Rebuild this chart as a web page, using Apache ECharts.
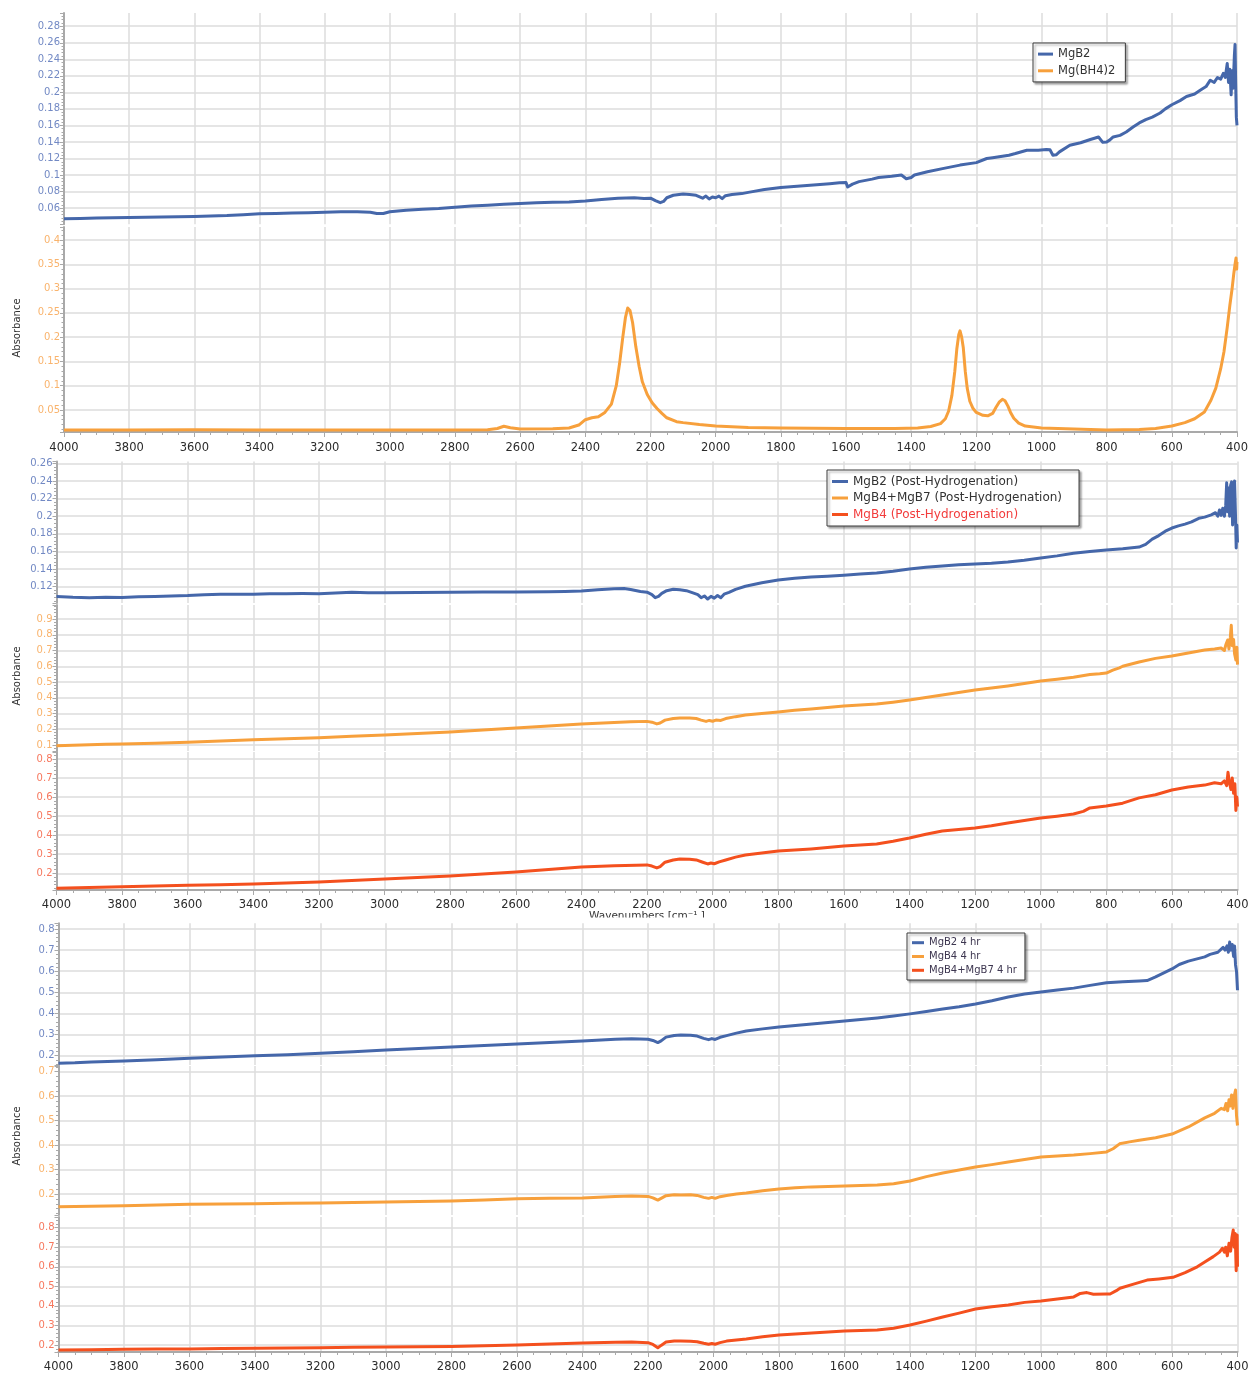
<!DOCTYPE html>
<html>
<head>
<meta charset="utf-8">
<title>FTIR absorbance spectra</title>
<script src="https://cdn.jsdelivr.net/npm/echarts@6/dist/echarts.min.js"></script>
<style>
  html, body { margin: 0; padding: 0; background: #ffffff; }
  #chart { width: 1252px; height: 1373px; }
</style>
</head>
<body>
<div id="chart"></div>
<script>
// Wavenumber axis (cm-1), drawn high -> low
const wavenumberRange = [400, 4000];
const wavenumberStep = 200;

// ---- Panel 1: starting materials ----
const mgb2Raw = [
  [4000,0.047],[3950,0.0475],[3900,0.048],[3850,0.0482],[3800,0.0485],[3750,0.049],[3700,0.0492],[3650,0.0495],
  [3600,0.0498],[3550,0.0505],[3500,0.051],[3450,0.052],[3400,0.053],[3350,0.0535],[3300,0.054],[3250,0.0545],
  [3200,0.055],[3150,0.0555],[3100,0.0555],[3060,0.055],[3040,0.0535],[3020,0.0535],[3000,0.0555],[2950,0.0575],
  [2900,0.0585],[2850,0.0595],[2800,0.061],[2750,0.0625],[2700,0.0635],[2650,0.0645],[2600,0.0655],[2550,0.0665],
  [2500,0.067],[2450,0.0675],[2400,0.0685],[2350,0.0705],[2300,0.072],[2250,0.0725],[2220,0.0715],[2200,0.072],
  [2185,0.069],[2170,0.0665],[2160,0.068],[2150,0.0725],[2130,0.0755],[2100,0.077],[2080,0.0765],[2060,0.0755],
  [2040,0.072],[2030,0.0745],[2020,0.071],[2010,0.0735],[2000,0.0725],[1990,0.0745],[1980,0.0715],[1970,0.075],
  [1950,0.0765],[1920,0.0775],[1900,0.079],[1850,0.0825],[1800,0.085],[1750,0.0865],[1700,0.088],[1650,0.0895],
  [1620,0.0905],[1600,0.091],[1595,0.0855],[1590,0.0845],[1580,0.089],[1560,0.092],[1520,0.095],[1500,0.097],
  [1460,0.0985],[1430,0.1],[1415,0.0955],[1400,0.097],[1390,0.1],[1350,0.104],[1300,0.108],[1250,0.112],
  [1200,0.115],[1168,0.12],[1150,0.121],[1100,0.124],[1080,0.126],[1045,0.13],[1010,0.13],[985,0.131],
  [974,0.1305],[965,0.124],[955,0.1245],[945,0.128],[913,0.136],[880,0.139],[850,0.143],[825,0.146],
  [812,0.1395],[800,0.14],[790,0.1425],[780,0.146],[759,0.148],[740,0.152],[719,0.158],[700,0.163],
  [680,0.167],[660,0.17],[636,0.175],[620,0.18],[600,0.185],[575,0.19],[555,0.195],[530,0.198],
  [513,0.2025],[495,0.207],[482,0.2147],[470,0.212],[460,0.218],[450,0.216],[442,0.223],[436,0.218],
  [430,0.235],[426,0.212],[422,0.228],[418,0.197],[415,0.226],[412,0.205],[408,0.245],[406,0.258],
  [404,0.21],[402,0.17],[400,0.16]
];
const mgbh42Raw = [
  [4000,0.009],[3800,0.009],[3600,0.0092],[3400,0.009],[3200,0.0088],[3000,0.0088],[2800,0.009],[2700,0.0095],
  [2670,0.012],[2650,0.0165],[2630,0.0135],[2600,0.011],[2500,0.0115],[2450,0.013],[2420,0.019],[2400,0.03],
  [2380,0.034],[2360,0.036],[2340,0.045],[2320,0.062],[2305,0.1],[2295,0.145],[2285,0.2],[2277,0.24],
  [2270,0.26],[2263,0.255],[2255,0.23],[2245,0.18],[2235,0.14],[2225,0.108],[2210,0.082],[2195,0.065],
  [2180,0.053],[2165,0.043],[2150,0.034],[2120,0.026],[2100,0.024],[2050,0.02],[2000,0.017],[1900,0.014],
  [1800,0.013],[1600,0.012],[1450,0.012],[1380,0.013],[1340,0.016],[1310,0.022],[1295,0.032],[1285,0.048],
  [1275,0.08],[1266,0.13],[1260,0.175],[1254,0.205],[1250,0.213],[1245,0.2],[1240,0.178],[1234,0.13],
  [1228,0.095],[1220,0.068],[1210,0.053],[1200,0.045],[1180,0.039],[1165,0.038],[1150,0.043],[1140,0.055],
  [1130,0.066],[1120,0.072],[1112,0.069],[1103,0.058],[1095,0.045],[1085,0.033],[1070,0.023],[1050,0.017],
  [1000,0.013],[900,0.011],[800,0.009],[700,0.01],[650,0.012],[600,0.017],[560,0.024],[530,0.032],
  [500,0.046],[480,0.07],[465,0.095],[450,0.135],[440,0.17],[430,0.22],[422,0.265],[415,0.3],
  [410,0.33],[406,0.35],[403,0.363],[401,0.34],[400,0.355]
];

// ---- Panel 2: after hydrogenation ----
const mgb2Hyd = [
  [4000,0.109],[3950,0.108],[3900,0.1075],[3850,0.108],[3800,0.1078],[3750,0.1085],[3700,0.109],[3650,0.1095],
  [3600,0.11],[3550,0.111],[3500,0.1115],[3450,0.1115],[3400,0.1113],[3350,0.112],[3300,0.112],[3250,0.1122],
  [3200,0.112],[3150,0.1128],[3100,0.1136],[3050,0.113],[3000,0.1132],[2900,0.1135],[2800,0.1138],[2700,0.114],
  [2600,0.114],[2500,0.1142],[2450,0.1145],[2400,0.115],[2350,0.1165],[2300,0.1178],[2270,0.118],[2250,0.1168],
  [2220,0.1145],[2200,0.1138],[2185,0.111],[2175,0.1075],[2165,0.109],[2155,0.1125],[2140,0.1155],[2120,0.117],
  [2100,0.1165],[2080,0.1155],[2060,0.113],[2045,0.111],[2035,0.1075],[2025,0.1095],[2015,0.106],[2005,0.109],
  [1995,0.107],[1985,0.11],[1975,0.1075],[1965,0.1115],[1950,0.1135],[1930,0.117],[1900,0.1205],[1850,0.1245],
  [1800,0.1275],[1750,0.1295],[1700,0.131],[1650,0.132],[1600,0.133],[1550,0.1343],[1500,0.1355],[1450,0.1375],
  [1400,0.14],[1350,0.142],[1300,0.1435],[1250,0.1448],[1200,0.1458],[1150,0.1465],[1100,0.148],[1050,0.15],
  [1000,0.1525],[950,0.155],[900,0.158],[850,0.16],[800,0.1617],[750,0.163],[700,0.165],[680,0.168],
  [660,0.174],[640,0.178],[620,0.183],[600,0.1866],[580,0.189],[560,0.191],[540,0.1935],[518,0.1976],
  [500,0.199],[480,0.2015],[467,0.204],[460,0.2],[455,0.207],[450,0.201],[445,0.209],[440,0.2],
  [436,0.212],[433,0.238],[430,0.205],[427,0.232],[424,0.2],[421,0.235],[418,0.239],[415,0.19],
  [412,0.228],[409,0.24],[406,0.2],[404,0.164],[402,0.19],[400,0.17]
];
const mgb4b7Hyd = [
  [4000,0.096],[3950,0.099],[3900,0.102],[3850,0.104],[3800,0.106],[3700,0.111],[3600,0.117],[3500,0.126],
  [3400,0.134],[3300,0.14],[3200,0.146],[3100,0.155],[3000,0.163],[2900,0.173],[2800,0.183],[2700,0.195],
  [2600,0.208],[2500,0.221],[2400,0.233],[2300,0.243],[2250,0.248],[2200,0.25],[2185,0.245],[2170,0.234],
  [2160,0.24],[2145,0.258],[2120,0.268],[2100,0.271],[2070,0.272],[2050,0.268],[2035,0.258],[2020,0.25],
  [2010,0.256],[2000,0.251],[1990,0.258],[1975,0.256],[1960,0.268],[1930,0.28],[1900,0.29],[1850,0.3],
  [1800,0.31],[1750,0.32],[1700,0.329],[1650,0.338],[1600,0.348],[1550,0.354],[1500,0.36],[1450,0.372],
  [1400,0.386],[1350,0.401],[1300,0.417],[1250,0.433],[1200,0.449],[1150,0.462],[1100,0.475],[1050,0.49],
  [1000,0.506],[950,0.518],[900,0.53],[850,0.548],[820,0.552],[800,0.557],[780,0.575],[760,0.59],
  [750,0.6],[700,0.627],[650,0.65],[600,0.665],[550,0.684],[500,0.703],[470,0.71],[450,0.716],
  [440,0.7],[435,0.74],[430,0.767],[426,0.71],[422,0.78],[419,0.86],[416,0.73],[412,0.77],
  [409,0.68],[405,0.64],[402,0.72],[400,0.61]
];
const mgb4Hyd = [
  [4000,0.121],[3900,0.125],[3800,0.13],[3700,0.133],[3600,0.137],[3500,0.14],[3400,0.144],[3300,0.149],
  [3200,0.154],[3100,0.162],[3000,0.17],[2900,0.178],[2800,0.186],[2700,0.196],[2600,0.207],[2500,0.22],
  [2400,0.233],[2300,0.24],[2200,0.244],[2185,0.238],[2170,0.228],[2160,0.235],[2145,0.258],[2120,0.27],
  [2100,0.275],[2070,0.274],[2050,0.27],[2030,0.258],[2015,0.249],[2005,0.254],[1995,0.25],[1980,0.26],
  [1960,0.27],[1930,0.285],[1900,0.296],[1850,0.307],[1800,0.317],[1750,0.322],[1700,0.328],[1650,0.335],
  [1600,0.343],[1550,0.348],[1500,0.354],[1450,0.368],[1400,0.385],[1350,0.405],[1300,0.422],[1250,0.43],
  [1200,0.438],[1150,0.45],[1100,0.464],[1050,0.477],[1000,0.49],[950,0.5],[900,0.511],[870,0.525],
  [850,0.543],[800,0.553],[750,0.568],[700,0.596],[650,0.612],[600,0.637],[550,0.653],[500,0.663],
  [470,0.675],[450,0.67],[440,0.685],[433,0.66],[429,0.73],[425,0.68],[420,0.64],[416,0.7],
  [412,0.62],[408,0.67],[405,0.53],[402,0.6],[400,0.55]
];

// ---- Panel 3: 4 hr runs ----
const mgb2Run4h = [
  [4000,0.164],[3950,0.166],[3900,0.17],[3850,0.172],[3800,0.175],[3700,0.181],[3600,0.188],[3500,0.194],
  [3400,0.2],[3300,0.205],[3200,0.211],[3100,0.219],[3000,0.227],[2900,0.234],[2800,0.241],[2700,0.248],
  [2600,0.255],[2500,0.262],[2400,0.27],[2300,0.278],[2250,0.28],[2200,0.278],[2185,0.272],[2170,0.262],
  [2160,0.27],[2145,0.288],[2120,0.296],[2100,0.298],[2070,0.297],[2050,0.293],[2030,0.282],[2015,0.276],
  [2005,0.281],[1995,0.277],[1980,0.287],[1960,0.295],[1930,0.307],[1900,0.317],[1850,0.327],[1800,0.336],
  [1750,0.343],[1700,0.35],[1650,0.357],[1600,0.364],[1550,0.371],[1500,0.379],[1450,0.388],[1400,0.398],
  [1350,0.409],[1300,0.421],[1250,0.432],[1200,0.445],[1150,0.46],[1100,0.478],[1050,0.492],[1000,0.502],
  [950,0.511],[900,0.52],[850,0.533],[800,0.545],[750,0.55],[700,0.554],[676,0.556],[650,0.573],
  [600,0.611],[578,0.632],[550,0.648],[500,0.668],[484,0.68],[460,0.69],[444,0.713],[438,0.7],
  [432,0.72],[428,0.69],[424,0.738],[420,0.7],[416,0.727],[412,0.67],[409,0.72],[406,0.63],
  [403,0.6],[400,0.51]
];
const mgb4Run4h = [
  [4000,0.148],[3900,0.15],[3800,0.152],[3700,0.155],[3600,0.158],[3500,0.159],[3400,0.16],[3300,0.162],
  [3200,0.163],[3100,0.165],[3000,0.167],[2900,0.169],[2800,0.171],[2700,0.175],[2600,0.18],[2500,0.182],
  [2400,0.184],[2300,0.19],[2250,0.192],[2200,0.19],[2185,0.184],[2170,0.175],[2160,0.182],[2145,0.193],
  [2120,0.197],[2100,0.196],[2070,0.197],[2050,0.194],[2030,0.186],[2015,0.182],[2005,0.186],[1995,0.182],
  [1980,0.189],[1960,0.194],[1930,0.2],[1900,0.204],[1850,0.213],[1800,0.22],[1750,0.225],[1700,0.229],
  [1650,0.231],[1600,0.233],[1550,0.235],[1500,0.237],[1450,0.242],[1400,0.253],[1350,0.271],[1300,0.286],
  [1250,0.298],[1200,0.31],[1150,0.32],[1100,0.331],[1050,0.341],[1000,0.351],[950,0.355],[900,0.359],
  [850,0.365],[800,0.372],[780,0.385],[760,0.405],[730,0.413],[700,0.42],[650,0.43],[600,0.445],
  [550,0.474],[500,0.511],[470,0.53],[450,0.55],[440,0.545],[435,0.57],[430,0.54],[426,0.585],
  [422,0.56],[418,0.605],[414,0.55],[410,0.6],[406,0.625],[403,0.52],[400,0.48]
];
const mgb4b7Run4h = [
  [4000,0.174],[3900,0.176],[3800,0.178],[3700,0.179],[3600,0.18],[3500,0.182],[3400,0.183],[3300,0.185],
  [3200,0.186],[3100,0.188],[3000,0.19],[2900,0.191],[2800,0.192],[2700,0.196],[2600,0.2],[2500,0.205],
  [2400,0.21],[2300,0.214],[2250,0.215],[2200,0.212],[2185,0.203],[2170,0.186],[2160,0.198],[2145,0.215],
  [2120,0.221],[2100,0.22],[2070,0.219],[2050,0.217],[2030,0.209],[2015,0.204],[2005,0.208],[1995,0.204],
  [1980,0.212],[1960,0.22],[1930,0.226],[1900,0.231],[1850,0.242],[1800,0.251],[1750,0.256],[1700,0.261],
  [1650,0.267],[1600,0.272],[1550,0.274],[1500,0.277],[1450,0.286],[1400,0.302],[1350,0.322],[1300,0.343],
  [1250,0.363],[1200,0.384],[1150,0.396],[1100,0.405],[1050,0.418],[1000,0.425],[950,0.435],[900,0.446],
  [880,0.464],[860,0.468],[840,0.46],[800,0.461],[789,0.461],[770,0.478],[759,0.49],[720,0.51],
  [676,0.532],[640,0.538],[597,0.546],[560,0.57],[523,0.6],[500,0.625],[474,0.652],[455,0.675],
  [446,0.695],[440,0.675],[436,0.7],[431,0.656],[426,0.72],[421,0.68],[417,0.75],[413,0.788],
  [410,0.7],[407,0.77],[404,0.58],[401,0.763],[400,0.6]
];

// Legend labels, one list per panel
const panel1Names = ['MgB2', 'Mg(BH4)2'];
const panel2Names = ['MgB2 (Post-Hydrogenation)', 'MgB4+MgB7 (Post-Hydrogenation)', 'MgB4 (Post-Hydrogenation)'];
const panel3Names = ['MgB2 4 hr', 'MgB4 4 hr', 'MgB4+MgB7 4 hr'];

// Absorbance ranges and label step for each strip (top to bottom)
const stripMin  = [0.0405, 0.0047, 0.1015, 0.0619, 0.1123, 0.1559, 0.114, 0.1642];
const stripMax  = [0.296, 0.4267, 0.262, 0.9889, 0.8367, 0.827, 0.7233, 0.8547];
const stripStep = [0.02, 0.05, 0.02, 0.1, 0.1, 0.1, 0.1, 0.1];

const BLUE = '#4567aa', ORANGE = '#f7a03c', RED = '#f4501e';
const BLUE_LBL = '#7289c4', ORANGE_LBL = '#f9b36c', RED_LBL = '#f7785e';
const FONT = 'DejaVu Sans';
const GRID_LINE = '#dcdcdc';
const AXIS_GRAY = '#a9a9a9';

// strip boxes in px
const grids = [
  { left: 64,   width: 1173, top: 13,    height: 211.2 },
  { left: 64,   width: 1173, top: 227,   height: 205 },
  { left: 56.5, width: 1181, top: 461.6, height: 141.4 },
  { left: 56.5, width: 1181, top: 605,   height: 146 },
  { left: 56.5, width: 1181, top: 752,   height: 138 },
  { left: 58.5, width: 1179, top: 923.3, height: 141.7 },
  { left: 58.5, width: 1179, top: 1066,  height: 149 },
  { left: 58.5, width: 1179, top: 1217,  height: 135 }
].map(g => Object.assign({ outerBoundsMode: 'none', containLabel: false }, g));

// strips that carry the wavenumber labels, and their label offsets
const bottomStrips = { 1: 10.5, 4: 9, 7: 9.5 };
const stripLabelColor = [BLUE_LBL, ORANGE_LBL, BLUE_LBL, ORANGE_LBL, RED_LBL, BLUE_LBL, ORANGE_LBL, RED_LBL];

function xAxisFor(i) {
  const bottom = bottomStrips[i] !== undefined;
  return {
    type: 'value', gridIndex: i,
    min: wavenumberRange[0], max: wavenumberRange[1], interval: wavenumberStep, inverse: true,
    axisLine: { show: bottom, onZero: false, lineStyle: { color: AXIS_GRAY, width: 2 } },
    axisTick: { show: bottom, length: 5, lineStyle: { color: AXIS_GRAY, width: 1 } },
    minorTick: { show: bottom, splitNumber: 4, length: 3, lineStyle: { color: AXIS_GRAY, width: 1 } },
    axisLabel: { show: bottom, color: '#2b2b2b', fontSize: 11.5, fontFamily: FONT,
                 margin: bottom ? bottomStrips[i] : 8, formatter: v => String(v) },
    splitLine: { show: true, lineStyle: { color: GRID_LINE, width: 1.5 } }
  };
}
function yAxisFor(i) {
  const step = stripStep[i];
  return {
    type: 'value', gridIndex: i,
    min: stripMin[i], max: stripMax[i],
    minInterval: step, maxInterval: step,
    splitNumber: Math.round((stripMax[i] - stripMin[i]) / step),
    axisLine: { show: true, onZero: false, lineStyle: { color: AXIS_GRAY, width: 2 } },
    axisTick: { show: true, length: 4, lineStyle: { color: AXIS_GRAY, width: 1 } },
    minorTick: { show: true, splitNumber: 5, length: 2.5, lineStyle: { color: AXIS_GRAY, width: 1 } },
    axisLabel: { color: stripLabelColor[i], fontSize: 10, fontFamily: FONT, margin: 4,
                 showMinLabel: false, showMaxLabel: false },
    splitLine: { show: true, showMinLine: false, showMaxLine: false,
                 lineStyle: { color: GRID_LINE, width: 1.5 } }
  };
}
function spectrum(name, data, color, i) {
  return {
    name, type: 'line', xAxisIndex: i, yAxisIndex: i, data,
    showSymbol: false, symbol: 'none', color,
    lineStyle: { width: 3, color, join: 'round' },
    silent: true, animation: false, clip: true, z: 3
  };
}

const legendBase = {
  orient: 'vertical', icon: 'rect', itemHeight: 3,
  backgroundColor: '#ffffff', borderColor: '#3a3a3a', borderWidth: 1,
  shadowColor: 'rgba(0,0,0,0.35)', shadowBlur: 2, shadowOffsetX: 2, shadowOffsetY: 2,
  selectedMode: false, align: 'left'
};

const option = {
  backgroundColor: '#ffffff',
  animation: false,
  grid: grids,
  xAxis: grids.map((g, i) => xAxisFor(i)),
  yAxis: grids.map((g, i) => yAxisFor(i)),
  legend: [
    Object.assign({}, legendBase, {
      left: 1033, top: 43, itemWidth: 15, itemGap: 3.7, padding: [4.6, 10, 4.6, 5],
      textStyle: { color: '#333', fontSize: 11.5, fontFamily: FONT, lineHeight: 13 },
      data: panel1Names
    }),
    Object.assign({}, legendBase, {
      left: 827, top: 470, itemWidth: 16, itemGap: 3.5, padding: [5, 17, 5, 5],
      textStyle: { color: '#333', fontSize: 12, fontFamily: FONT, lineHeight: 13 },
      data: [panel2Names[0], panel2Names[1], { name: panel2Names[2], textStyle: { color: '#f23c3c' } }]
    }),
    Object.assign({}, legendBase, {
      left: 907, top: 933, itemWidth: 12, itemGap: 1.8, padding: [3.7, 8, 3.7, 5],
      textStyle: { color: '#3d3650', fontSize: 10, fontFamily: FONT, lineHeight: 12 },
      data: panel3Names
    })
  ],
  series: [
    spectrum(panel1Names[0], mgb2Raw, BLUE, 0),
    spectrum(panel1Names[1], mgbh42Raw, ORANGE, 1),
    spectrum(panel2Names[0], mgb2Hyd, BLUE, 2),
    spectrum(panel2Names[1], mgb4b7Hyd, ORANGE, 3),
    spectrum(panel2Names[2], mgb4Hyd, RED, 4),
    spectrum(panel3Names[0], mgb2Run4h, BLUE, 5),
    spectrum(panel3Names[1], mgb4Run4h, ORANGE, 6),
    spectrum(panel3Names[2], mgb4b7Run4h, RED, 7)
  ],
  graphic: [
    // vertical axis titles
    { type: 'text', x: 17.5, y: 328, rotation: Math.PI / 2, z: 10,
      style: { text: 'Absorbance', fill: '#333', font: '10px "DejaVu Sans"', align: 'center', verticalAlign: 'middle',
               textAlign: 'center', textVerticalAlign: 'middle' } },
    { type: 'text', x: 17.5, y: 676, rotation: Math.PI / 2, z: 10,
      style: { text: 'Absorbance', fill: '#333', font: '10px "DejaVu Sans"', align: 'center', verticalAlign: 'middle',
               textAlign: 'center', textVerticalAlign: 'middle' } },
    { type: 'text', x: 17.5, y: 1136, rotation: Math.PI / 2, z: 10,
      style: { text: 'Absorbance', fill: '#333', font: '10px "DejaVu Sans"', align: 'center', verticalAlign: 'middle',
               textAlign: 'center', textVerticalAlign: 'middle' } },
    // wavenumber title of the middle panel, its lower half tucked under the bottom panel
    { type: 'text', x: 647, y: 910.5, z: 10,
      style: { text: 'Wavenumbers [cm⁻¹ ]', fill: '#333', font: '10.5px "DejaVu Sans"', align: 'center', verticalAlign: 'top',
               textAlign: 'center', textVerticalAlign: 'top' } },
    { type: 'rect', z: 20, shape: { x: 60, y: 917.5, width: 1192, height: 5.5 }, style: { fill: '#ffffff' } }
  ]
};

const chart = echarts.init(document.getElementById('chart'), null, { renderer: 'canvas' });
chart.setOption(option);
</script>
</body>
</html>
